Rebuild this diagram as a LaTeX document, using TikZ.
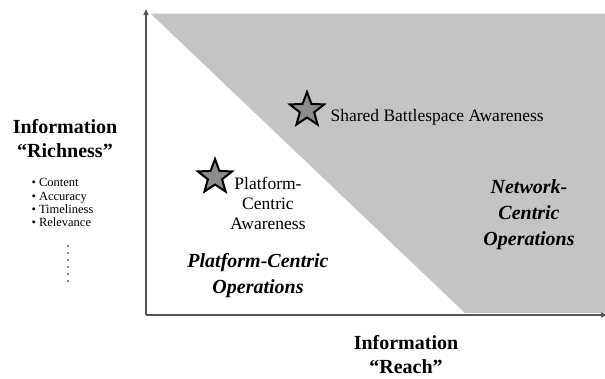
\documentclass[tikz,border=0pt]{standalone}
\usepackage{fontspec}
\setmainfont{Liberation Serif}
\usetikzlibrary{shapes.geometric,arrows.meta}
\definecolor{regiongray}{HTML}{C4C4C4}
\definecolor{stargray}{HTML}{8C8C8C}
\definecolor{axisgray}{HTML}{555555}
\tikzset{
  axisline/.style={draw=axisgray, line width=1.2pt, -{Triangle[length=6pt,width=5pt]}},
  starmark/.style={star, star points=5, star point ratio=2.4, minimum size=36pt, inner sep=0pt,
    fill=stargray, draw=black, line width=2pt},
  bigbold/.style={font=\fontsize{20}{24}\selectfont\bfseries, align=center},
  opslabel/.style={font=\fontsize{20}{26}\selectfont\bfseries\itshape, align=center},
  awarelabel/.style={font=\fontsize{17.5}{20}\selectfont, align=center},
  listtext/.style={font=\fontsize{12.5}{13.3}\selectfont, align=left}
}
\begin{document}
\begin{tikzpicture}[x=1pt,y=-1pt]
\useasboundingbox (0,0) rectangle (605,378);
\fill[white] (0,0) rectangle (605,378);
% gray region
\fill[regiongray] (150,13) -- (605,13) -- (605,313) -- (465,313) -- cycle;
\draw[white!85!gray, line width=0.6pt] (150,13) -- (605,13);
% axes
\coordinate (O) at (146,315);
\coordinate (ytop) at (146,9);
\coordinate (xend) at (607,315);
\draw[axisline] (O) -- (ytop);
\draw[axisline] (O) -- (xend);
% stars
\node[starmark] (s1) at (307,110) {};
\node[starmark] (s2) at (215,177) {};
\node[awarelabel, anchor=west] (sba) at (327,117) {Shared Battlespace Awareness};
\node[awarelabel] (pca) at (268,203) {Platform-\\Centric\\Awareness};
% region labels
\node[opslabel] (pco) at (258,276) {Platform-Centric\\Operations};
\node[opslabel] (nco) at (529,215) {Network-\\Centric\\Operations};
% axis labels
\node[bigbold] (rich) at (65,139) {Information\\“Richness”};
\node[bigbold] (reach) at (406,355) {Information\\“Reach”};
\node[listtext, anchor=north west] (list) at (28,175) {• Content\\• Accuracy\\• Timeliness\\• Relevance};
\foreach \yy in {246,253,260,267,274,281}
  \fill (68,\yy) circle (0.9);
\end{tikzpicture}
\end{document}
